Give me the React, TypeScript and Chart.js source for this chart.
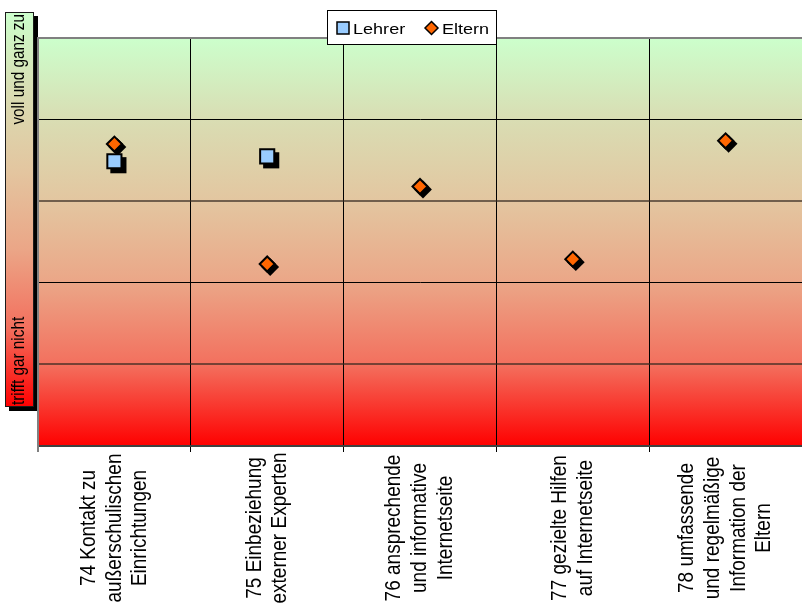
import React, { useEffect, useRef } from 'react';
import { Chart, registerables } from 'chart.js';

Chart.register(...registerables);

// ---- data ----
const categories: string[][] = [
  ['74 Kontakt zu', 'außerschulischen', 'Einrichtungen'],
  ['75 Einbeziehung', 'externer Experten'],
  ['76 ansprechende', 'und informative', 'Internetseite'],
  ['77 gezielte Hilfen', 'auf Internetseite'],
  ['78 umfassende', 'und regelmäßige', 'Information der', 'Eltern'],
];
const seriesNames = ['Lehrer', 'Eltern'];
const lehrerValues: (number | null)[] = [3.49, 3.55, null, null, null];
const elternValues: (number | null)[] = [3.7, 2.23, 3.18, 2.29, 3.74];
const yMin = 0;
const yMax = 5;
const yStep = 1;
const topLabel = 'voll und ganz zu';
const bottomLabel = 'trifft gar nicht';

// ---- styling ----
const FONT = "'Liberation Sans', Arial, sans-serif";
const SX = 1.18; // horizontal stretch of the original picture
const shadowOffsets = [4, 3];
const seriesFill = ['#99ccff', '#ff6600'];

function makeGradient(ctx: CanvasRenderingContext2D, y0: number, y1: number) {
  const g = ctx.createLinearGradient(0, y0, 0, y1);
  g.addColorStop(0, '#ccffcc');
  g.addColorStop(0.2, '#d9ddb3');
  g.addColorStop(0.4, '#e3c6a0');
  g.addColorStop(0.6, '#eba687');
  g.addColorStop(0.8, '#f3705e');
  g.addColorStop(1, '#ff0000');
  return g;
}

function drawRotatedLines(
  ctx: CanvasRenderingContext2D,
  lines: string[],
  x: number,
  y: number,
  size: number,
  align: CanvasTextAlign,
  lh: number
) {
  ctx.save();
  ctx.translate(x, y);
  ctx.scale(SX, 1);
  ctx.rotate(-Math.PI / 2);
  ctx.font = `${size}px ${FONT}`;
  ctx.textAlign = align;
  ctx.textBaseline = 'middle';
  ctx.fillStyle = '#000';
  const n = lines.length;
  lines.forEach((t, i) => {
    ctx.fillText(t, 0, (i - (n - 1) / 2) * lh);
  });
  ctx.restore();
}

function drawStretchedText(ctx: CanvasRenderingContext2D, text: string, x: number, y: number, size: number) {
  ctx.save();
  ctx.translate(x, y);
  ctx.scale(SX, 1);
  ctx.font = `${size}px ${FONT}`;
  ctx.textAlign = 'left';
  ctx.textBaseline = 'alphabetic';
  ctx.fillStyle = '#000';
  ctx.fillText(text, 0, 0);
  ctx.restore();
}

const decor = {
  id: 'decor',
  beforeDraw(chart: any) {
    const ctx: CanvasRenderingContext2D = chart.ctx;
    const a = chart.chartArea;
    ctx.save();
    ctx.fillStyle = makeGradient(ctx, a.top, a.bottom);
    ctx.fillRect(a.left, a.top, a.right - a.left, a.bottom - a.top);

    // left colour bar with shadow
    const bx = 5, by = 12, bw = 29, bh = 395;
    ctx.fillStyle = '#000';
    ctx.fillRect(bx + 4, by + 4, bw, bh);
    ctx.fillStyle = makeGradient(ctx, by, by + bh);
    ctx.fillRect(bx, by, bw, bh);
    ctx.strokeStyle = '#1a1a1a';
    ctx.lineWidth = 1;
    ctx.strokeRect(bx + 0.5, by + 0.5, bw - 1, bh - 1);
    ctx.restore();

    drawRotatedLines(ctx, [topLabel], 19.5, 14, 15.3, 'right', 0);
    drawRotatedLines(ctx, [bottomLabel], 19.5, 405, 15.3, 'left', 0);
  },
  beforeDatasetDraw(chart: any, args: any) {
    const ctx: CanvasRenderingContext2D = chart.ctx;
    const meta = args.meta;
    const off = shadowOffsets[meta.index] ?? 3;
    ctx.save();
    ctx.fillStyle = '#000';
    meta.data.forEach((el: any) => {
      if (el.skip) return;
      const o = el.options;
      const r = o.radius;
      const bw = o.borderWidth;
      const x = el.x + off;
      const y = el.y + off;
      ctx.beginPath();
      if (o.pointStyle === 'rect') {
        const h = Math.SQRT1_2 * r + bw / 2;
        ctx.rect(x - h, y - h, 2 * h, 2 * h);
      } else {
        const h = r + bw * 0.7;
        ctx.moveTo(x, y - h);
        ctx.lineTo(x + h, y);
        ctx.lineTo(x, y + h);
        ctx.lineTo(x - h, y);
        ctx.closePath();
      }
      ctx.fill();
    });
    ctx.restore();
  },
  afterDraw(chart: any) {
    const ctx: CanvasRenderingContext2D = chart.ctx;
    const xs = chart.scales.x;
    categories.forEach((lines, i) => {
      drawRotatedLines(ctx, lines, xs.getPixelForValue(i), 528, 19, 'center', 21.8);
    });

    // legend
    ctx.save();
    ctx.fillStyle = '#fff';
    ctx.fillRect(327, 10, 170, 35);
    ctx.strokeStyle = '#000';
    ctx.lineWidth = 1;
    ctx.strokeRect(327.5, 10.5, 169, 34);
    // square
    ctx.fillStyle = seriesFill[0];
    ctx.fillRect(337, 22, 12, 12);
    ctx.lineWidth = 1.5;
    ctx.strokeRect(337, 22, 12, 12);
    // diamond
    ctx.beginPath();
    const cx = 431.5, cy = 28, h = 6.5;
    ctx.moveTo(cx, cy - h);
    ctx.lineTo(cx + h, cy);
    ctx.lineTo(cx, cy + h);
    ctx.lineTo(cx - h, cy);
    ctx.closePath();
    ctx.fillStyle = seriesFill[1];
    ctx.fill();
    ctx.stroke();
    ctx.restore();
    drawStretchedText(ctx, seriesNames[0], 353, 34, 15.3);
    drawStretchedText(ctx, seriesNames[1], 442, 34, 15.3);
  },
};

function yGridColor(c: any) {
  const v = c.tick ? c.tick.value : null;
  if (v === yMax) return '#808080';
  if (v === 1 || v === 3) return 'rgba(50,40,30,0.65)';
  return '#000';
}
function yGridWidth(c: any) {
  const v = c.tick ? c.tick.value : null;
  if (v === yMax || v === 1 || v === 3) return 2;
  return 1;
}

export default function App() {
  const ref = useRef<HTMLCanvasElement | null>(null);
  useEffect(() => {
    if (!ref.current) return;
    const chart = new Chart(ref.current, {
      type: 'line',
      data: {
        labels: categories.map((c) => c.join(' ')),
        datasets: [
          {
            label: seriesNames[0],
            data: lehrerValues,
            showLine: false,
            pointStyle: 'rect',
            pointRadius: 10,
            pointBackgroundColor: seriesFill[0],
            pointBorderColor: '#000',
            pointBorderWidth: 2,
          },
          {
            label: seriesNames[1],
            data: elternValues,
            showLine: false,
            pointStyle: 'rectRot',
            pointRadius: 7.5,
            pointBackgroundColor: seriesFill[1],
            pointBorderColor: '#000',
            pointBorderWidth: 2,
          },
        ],
      } as any,
      options: {
        responsive: false,
        animation: false,
        devicePixelRatio: 1,
        layout: { autoPadding: false, padding: { left: 38, top: 38, right: 0, bottom: 154 } },
        plugins: { legend: { display: false }, tooltip: { enabled: false } },
        scales: {
          x: {
            offset: true,
            grid: {
              offset: true,
              color: (c: any) => (c.index === 0 ? '#808080' : '#000'),
              tickColor: (c: any) => (c.index === 0 ? '#808080' : '#000'),
              tickLength: 6,
              lineWidth: (c: any) => (c.index === 0 ? 2 : 1),
            },
            ticks: { display: false },
            border: { display: true, color: '#404040', width: 2 },
          },
          y: {
            min: yMin,
            max: yMax,
            ticks: { display: false, stepSize: yStep },
            grid: {
              drawTicks: false,
              color: yGridColor,
              lineWidth: yGridWidth,
            },
            border: { display: true, color: '#808080', width: 2 },
          },
        },
      } as any,
      plugins: [decor],
    });
    return () => chart.destroy();
  }, []);
  return (
    <div style={{ position: 'fixed', left: 0, top: 0, width: 802, height: 606, background: '#fff' }}>
      <canvas ref={ref} width={802} height={606} />
    </div>
  );
}
